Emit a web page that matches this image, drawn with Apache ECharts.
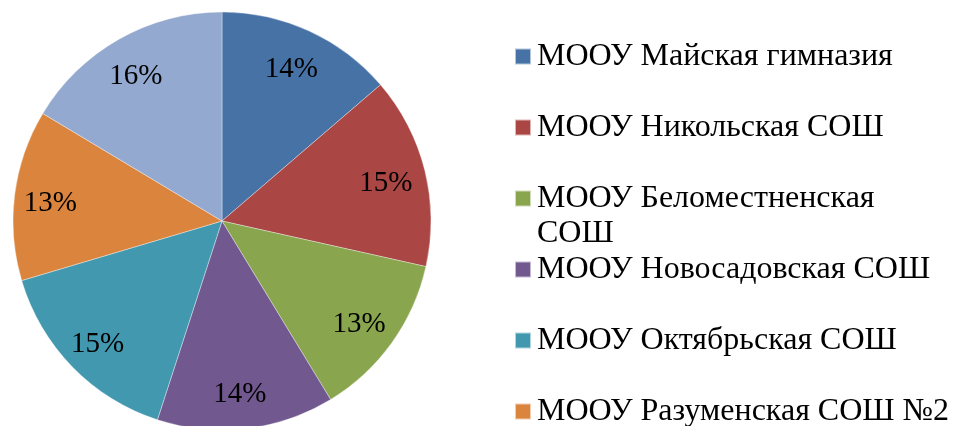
<!DOCTYPE html>
<html>
<head>
<meta charset="utf-8">
<script src="https://cdn.jsdelivr.net/npm/echarts@6/dist/echarts.min.js"></script>
<style>
  html, body { margin: 0; padding: 0; background: #fff; }
  #chart { width: 963px; height: 426px; }
</style>
</head>
<body>
<div id="chart"></div>
<script>
// школы (последняя в легенде обрезана краем рисунка)
const schools = [
  'МООУ Майская гимназия',
  'МООУ Никольская СОШ',
  'МООУ Беломестненская\nСОШ',
  'МООУ Новосадовская СОШ',
  'МООУ Октябрьская СОШ',
  'МООУ Разуменская СОШ №2',
  'МООУ Стрелецкая СОШ'
];
// доли, %
const shares = [13.7, 14.8, 12.8, 13.7, 15.4, 13.2, 16.4];
const colors = ['#4672A6', '#AA4644', '#89A54E', '#71588F', '#4198AF', '#DB843D', '#93A9CF'];

const font = '"Liberation Serif", "Times New Roman", serif';
const cx = 222, cy = 221, R = 209;

let chart = echarts.init(document.getElementById('chart'));

const pieData = schools.map((name, i) => ({ name: name, value: shares[i] }));

// отдельная легенда на каждый пункт, чтобы перенос строки не сдвигал остальные;
// у перенесённого пункта квадратик стоит напротив первой строки
let legends = schools.map((name, i) => {
  const center = 54 + 71 * i;
  const wrapped = name.indexOf('\n') >= 0;
  return {
    orient: 'vertical',
    left: 514,
    top: center - 13.5,
    padding: 0,
    itemWidth: 16,
    itemHeight: 16,
    icon: 'rect',
    selectedMode: false,
    data: [name],
    formatter: (n) => n.split('\n').map(s => '{t|' + s + '}').join('\n'),
    textStyle: {
      padding: wrapped ? [35, 0, 0, 1] : [0, 0, 0, 1],
      rich: {
        t: {
          fontFamily: font,
          fontSize: 32,
          color: '#000',
          lineHeight: 35
        }
      }
    }
  };
});

chart.setOption({
  animation: false,
  color: colors,
  legend: legends,
  series: [
    {
      type: 'pie',
      center: [cx, cy],
      radius: [0, R],
      startAngle: 90,
      clockwise: true,
      label: { show: false },
      labelLine: { show: false },
      itemStyle: { borderWidth: 0.6, borderColor: 'rgba(255,255,255,0.6)' },
      emphasis: { disabled: true },
      data: pieData
    },
    {
      // только подписи процентов, ближе к краю круга
      type: 'pie',
      center: [cx, cy],
      radius: [127, R],
      startAngle: 90,
      clockwise: true,
      silent: true,
      itemStyle: { color: 'rgba(0,0,0,0)' },
      label: {
        show: true,
        position: 'inside',
        formatter: '{d}%',
        fontFamily: font,
        fontSize: 29,
        color: '#000',
        offset: [-2, 4]
      },
      percentPrecision: 0,
      labelLine: { show: false },
      emphasis: { disabled: true },
      data: pieData
    }
  ]
});
</script>
</body>
</html>
